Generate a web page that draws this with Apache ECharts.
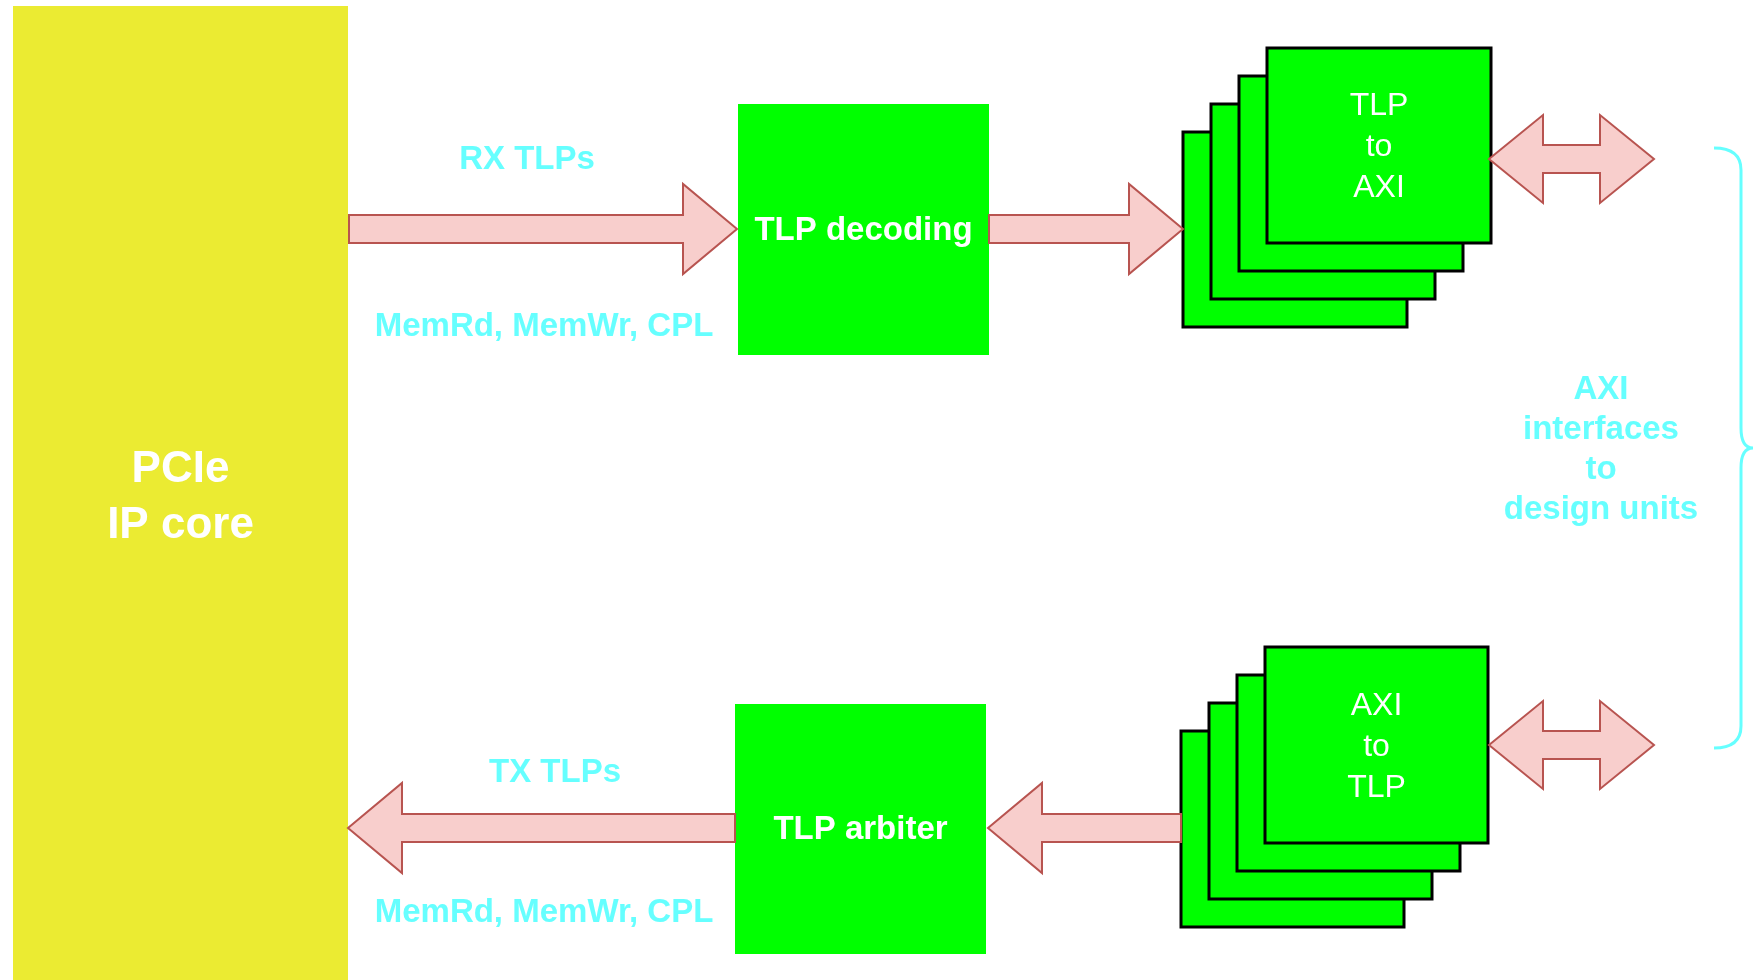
<!DOCTYPE html>
<html>
<head>
<meta charset="utf-8">
<script src="https://cdn.jsdelivr.net/npm/echarts@6/dist/echarts.min.js"></script>
<style>html,body{margin:0;padding:0;background:#fff}#c{width:1754px;height:980px}</style>
</head>
<body>
<div id="c"></div>
<script>
// ---- data (diagram units = pixels of the original drawing) ----
// solid blocks: [x0, y0, x1, y1]
const blockRects = [[13, 6, 348, 980], [738, 104, 989, 355], [735, 704, 986, 954]];
const blockLabels = ['PCIe\nIP core', 'TLP decoding', 'TLP arbiter'];
const blockKinds = ['core', 'unit', 'unit'];
// stacked unit boxes (back to front): [x0, y0, x1, y1]
const stackRects = [
  [1183, 132, 1407, 327], [1211, 104, 1435, 299], [1239, 76, 1463, 271], [1267, 48, 1491, 243],
  [1181, 731, 1404, 927], [1209, 703, 1432, 899], [1237, 675, 1460, 871], [1265, 647, 1488, 843]
];
const stackLabels = ['', '', '', 'TLP\nto\nAXI', '', '', '', 'AXI\nto\nTLP'];
// single arrows: [xTail, xTip, yCenter]
const arrows = [[349, 737, 229], [989, 1183, 229], [1181, 988, 828], [735, 348, 828]];
// double arrows: [xLeft, xRight, yCenter]
const doubleArrows = [[1489, 1654, 159], [1489, 1654, 745]];
// brace: [x, yTop, yBottom]
const braces = [[1741, 148, 748]];
// free text labels: [x, y]
const textPos = [[527, 160], [544, 327], [555, 773], [544, 913], [1601, 450]];
const textLabels = ['RX TLPs', 'MemRd, MemWr, CPL', 'TX TLPs', 'MemRd, MemWr, CPL', 'AXI\ninterfaces\nto\ndesign units'];

// ---- styles ----
const YELLOW = '#ebeb32', GREEN = '#00ff00', CYAN = '#66ffff';
const ARROW_FILL = '#f8cecc', ARROW_STROKE = '#b85450';
const HEAD_LEN = 54, HEAD_HALF = 45, SHAFT_HALF = 14;
const FONT = '"Liberation Sans", Arial, Helvetica, sans-serif';

const chart = echarts.init(document.getElementById('c'), null, {renderer: 'canvas'});

function polyFrom(api, pts) {
  return pts.map(p => api.coord(p));
}

const option = {
  animation: false,
  backgroundColor: '#ffffff',
  grid: {left: 0, right: 0, top: 0, bottom: 0},
  xAxis: {type: 'value', min: 0, max: 1754, show: false},
  yAxis: {type: 'value', min: 0, max: 980, inverse: true, show: false},
  series: [
    {
      type: 'custom', coordinateSystem: 'cartesian2d', clip: false, z: 2,
      data: blockRects,
      renderItem: function (params, api) {
        const r = blockRects[params.dataIndex];
        const p0 = api.coord([r[0], r[1]]), p1 = api.coord([r[2], r[3]]);
        const core = blockKinds[params.dataIndex] === 'core';
        return {
          type: 'group',
          children: [
            {type: 'rect', shape: {x: p0[0], y: p0[1], width: p1[0] - p0[0], height: p1[1] - p0[1]},
             style: {fill: core ? YELLOW : GREEN}},
            {type: 'text', x: (p0[0] + p1[0]) / 2, y: core ? api.coord([0, 498])[1] : (p0[1] + p1[1]) / 2 + 1,
             style: {text: blockLabels[params.dataIndex], fill: '#ffffff', align: 'center', verticalAlign: 'middle',
                     font: 'bold ' + (core ? 44 : 33) + 'px ' + FONT, lineHeight: core ? 56 : 40}}
          ]
        };
      }
    },
    {
      type: 'custom', coordinateSystem: 'cartesian2d', clip: false, z: 3,
      data: stackRects,
      renderItem: function (params, api) {
        const r = stackRects[params.dataIndex];
        const p0 = api.coord([r[0], r[1]]), p1 = api.coord([r[2], r[3]]);
        const children = [
          {type: 'rect', shape: {x: p0[0], y: p0[1], width: p1[0] - p0[0], height: p1[1] - p0[1]},
           style: {fill: GREEN, stroke: '#000000', lineWidth: 3}}
        ];
        const lab = stackLabels[params.dataIndex];
        if (lab) {
          children.push({type: 'text', x: (p0[0] + p1[0]) / 2, y: (p0[1] + p1[1]) / 2 + 2,
            style: {text: lab, fill: '#ffffff', align: 'center', verticalAlign: 'middle',
                    font: '32px ' + FONT, lineHeight: 41}});
        }
        return {type: 'group', children: children};
      }
    },
    {
      type: 'custom', coordinateSystem: 'cartesian2d', clip: false, z: 4,
      data: arrows,
      renderItem: function (params, api) {
        const a = arrows[params.dataIndex];
        const t = a[0], h = a[1], y = a[2];
        const d = h > t ? 1 : -1;
        const b = h - d * HEAD_LEN;
        const pts = polyFrom(api, [[t, y - SHAFT_HALF], [b, y - SHAFT_HALF], [b, y - HEAD_HALF], [h, y],
          [b, y + HEAD_HALF], [b, y + SHAFT_HALF], [t, y + SHAFT_HALF]]);
        return {type: 'polygon', shape: {points: pts},
          style: {fill: ARROW_FILL, stroke: ARROW_STROKE, lineWidth: 2, lineJoin: 'miter'}};
      }
    },
    {
      type: 'custom', coordinateSystem: 'cartesian2d', clip: false, z: 4,
      data: doubleArrows,
      renderItem: function (params, api) {
        const a = doubleArrows[params.dataIndex];
        const l = a[0], r = a[1], y = a[2];
        const bl = l + HEAD_LEN, br = r - HEAD_LEN;
        const HH = 44;
        const pts = polyFrom(api, [[l, y], [bl, y - HH], [bl, y - SHAFT_HALF], [br, y - SHAFT_HALF], [br, y - HH],
          [r, y], [br, y + HH], [br, y + SHAFT_HALF], [bl, y + SHAFT_HALF], [bl, y + HH]]);
        return {type: 'polygon', shape: {points: pts},
          style: {fill: ARROW_FILL, stroke: ARROW_STROKE, lineWidth: 2, lineJoin: 'miter'}};
      }
    },
    {
      type: 'custom', coordinateSystem: 'cartesian2d', clip: false, z: 4,
      data: braces,
      renderItem: function (params, api) {
        const br = braces[params.dataIndex];
        const x = br[0], top = br[1], bot = br[2], mid = (top + bot) / 2;
        const P = (px, py) => api.coord([px, py]);
        const a = P(x - 27, top), c1 = P(x, top), a2 = P(x, top + 22);
        const m1 = P(x, mid - 20), mc = P(x, mid), m = P(x + 12, mid);
        const m2c = P(x, mid), m3 = P(x, mid + 20);
        const b1 = P(x, bot - 22), bc = P(x, bot), b = P(x - 27, bot);
        const pd = 'M' + a[0] + ' ' + a[1] + ' Q' + c1[0] + ' ' + c1[1] + ' ' + a2[0] + ' ' + a2[1] +
          ' L' + m1[0] + ' ' + m1[1] + ' Q' + mc[0] + ' ' + mc[1] + ' ' + m[0] + ' ' + m[1] +
          ' Q' + m2c[0] + ' ' + m2c[1] + ' ' + m3[0] + ' ' + m3[1] +
          ' L' + b1[0] + ' ' + b1[1] + ' Q' + bc[0] + ' ' + bc[1] + ' ' + b[0] + ' ' + b[1];
        return {type: 'path', shape: {pathData: pd},
          style: {fill: null, stroke: CYAN, lineWidth: 3}};
      }
    },
    {
      type: 'custom', coordinateSystem: 'cartesian2d', clip: false, z: 5,
      data: textPos,
      renderItem: function (params, api) {
        const p = api.coord(textPos[params.dataIndex]);
        return {type: 'text', x: p[0], y: p[1],
          style: {text: textLabels[params.dataIndex], fill: CYAN, align: 'center', verticalAlign: 'middle',
                  font: 'bold 33px ' + FONT, lineHeight: 40}};
      }
    }
  ]
};
chart.setOption(option);
</script>
</body>
</html>
